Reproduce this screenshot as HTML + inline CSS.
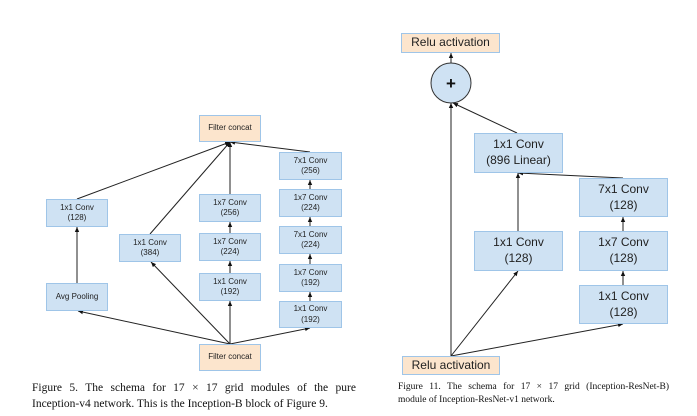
<!DOCTYPE html>
<html><head><style>
body{margin:0;width:697px;height:416px;background:#fff;overflow:hidden;position:relative;font-family:"Liberation Sans",sans-serif}
.b{position:absolute;box-sizing:border-box;background:#cfe2f3;border:1px solid #9fc5e8;display:flex;align-items:center;justify-content:center;text-align:center;color:#222;line-height:1.3}
.o{background:#fce5cd;border-color:#9fc5e8}
.s{font-size:8px}
.l{font-size:12px}
.cap{position:absolute;font-family:"Liberation Serif",serif;color:#111;white-space:nowrap}
.j{text-align:justify;text-align-last:justify}
svg{position:absolute;left:0;top:0}
</style></head><body>
<svg width="697" height="416">
<defs><marker id="a" markerWidth="6" markerHeight="6" refX="5" refY="3" orient="auto"><path d="M0,0.8 L5,3 L0,5.2z" fill="#111"/></marker></defs>
<g stroke="#222" stroke-width="1" fill="none" marker-end="url(#a)">
<line x1="77" y1="199" x2="230" y2="142"/>
<line x1="150" y1="234" x2="230" y2="142"/>
<line x1="230" y1="194" x2="230" y2="142"/>
<line x1="310" y1="152" x2="230" y2="142"/>
<line x1="77" y1="283" x2="77" y2="227"/>
<line x1="230" y1="344" x2="78" y2="311"/>
<line x1="230" y1="344" x2="151" y2="262"/>
<line x1="230" y1="344" x2="230" y2="301"/>
<line x1="230" y1="344" x2="310" y2="328"/>
<line x1="230" y1="273" x2="230" y2="261"/>
<line x1="230" y1="233" x2="230" y2="222"/>
<line x1="310" y1="189" x2="310" y2="180"/>
<line x1="310" y1="226" x2="310" y2="217"/>
<line x1="310" y1="264" x2="310" y2="254"/>
<line x1="310" y1="301" x2="310" y2="292"/>
<line x1="451" y1="356" x2="451" y2="103"/>
<line x1="451" y1="356" x2="518" y2="271"/>
<line x1="451" y1="356" x2="623" y2="324"/>
<line x1="518" y1="231" x2="518" y2="173"/>
<line x1="623" y1="178" x2="518" y2="173"/>
<line x1="623" y1="231" x2="623" y2="217"/>
<line x1="623" y1="285" x2="623" y2="271"/>
<line x1="517" y1="133" x2="453" y2="103"/>
<line x1="451" y1="63" x2="451" y2="53"/>
</g>
<circle cx="451" cy="83" r="20" fill="#cfe2f3" stroke="#333" stroke-width="1"/>
<text x="451" y="89" text-anchor="middle" font-family="Liberation Sans" font-weight="bold" font-size="17" fill="#111">+</text>
</svg>
<div class="b o s" style="left:199px;top:115px;width:62px;height:27px">Filter concat</div>
<div class="b o s" style="left:199px;top:344px;width:62px;height:27px">Filter concat</div>
<div class="b s" style="left:46px;top:199px;width:62px;height:28px">1x1 Conv<br>(128)</div>
<div class="b s" style="left:46px;top:283px;width:62px;height:28px">Avg Pooling</div>
<div class="b s" style="left:119px;top:234px;width:62px;height:28px">1x1 Conv<br>(384)</div>
<div class="b s" style="left:199px;top:194px;width:62px;height:28px">1x7 Conv<br>(256)</div>
<div class="b s" style="left:199px;top:233px;width:62px;height:28px">1x7 Conv<br>(224)</div>
<div class="b s" style="left:199px;top:273px;width:62px;height:28px">1x1 Conv<br>(192)</div>
<div class="b s" style="left:279px;top:152px;width:63px;height:28px">7x1 Conv<br>(256)</div>
<div class="b s" style="left:279px;top:189px;width:63px;height:28px">1x7 Conv<br>(224)</div>
<div class="b s" style="left:279px;top:226px;width:63px;height:28px">7x1 Conv<br>(224)</div>
<div class="b s" style="left:279px;top:264px;width:63px;height:28px">1x7 Conv<br>(192)</div>
<div class="b s" style="left:279px;top:301px;width:63px;height:27px">1x1 Conv<br>(192)</div>
<div class="b o l" style="left:401px;top:33px;width:99px;height:20px">Relu activation</div>
<div class="b o l" style="left:402px;top:356px;width:98px;height:19px">Relu activation</div>
<div class="b l" style="left:474px;top:133px;width:89px;height:40px">1x1 Conv<br>(896 Linear)</div>
<div class="b l" style="left:474px;top:231px;width:89px;height:40px">1x1 Conv<br>(128)</div>
<div class="b l" style="left:579px;top:178px;width:89px;height:39px">7x1 Conv<br>(128)</div>
<div class="b l" style="left:579px;top:231px;width:89px;height:40px">1x7 Conv<br>(128)</div>
<div class="b l" style="left:579px;top:285px;width:89px;height:39px">1x1 Conv<br>(128)</div>
<div class="cap j" style="left:32px;top:380px;width:324px;font-size:11.5px;line-height:16px">Figure 5. The schema for 17 × 17 grid modules of the pure</div>
<div class="cap" style="left:32px;top:396px;font-size:11.5px;line-height:16px">Inception-v4 network. This is the Inception-B block of Figure 9.</div>
<div class="cap j" style="left:398px;top:381px;width:271px;font-size:9.5px;line-height:13px">Figure 11. The schema for 17 × 17 grid (Inception-ResNet-B)</div>
<div class="cap" style="left:398px;top:394px;font-size:9.5px;line-height:13px">module of Inception-ResNet-v1 network.</div>
</body></html>
